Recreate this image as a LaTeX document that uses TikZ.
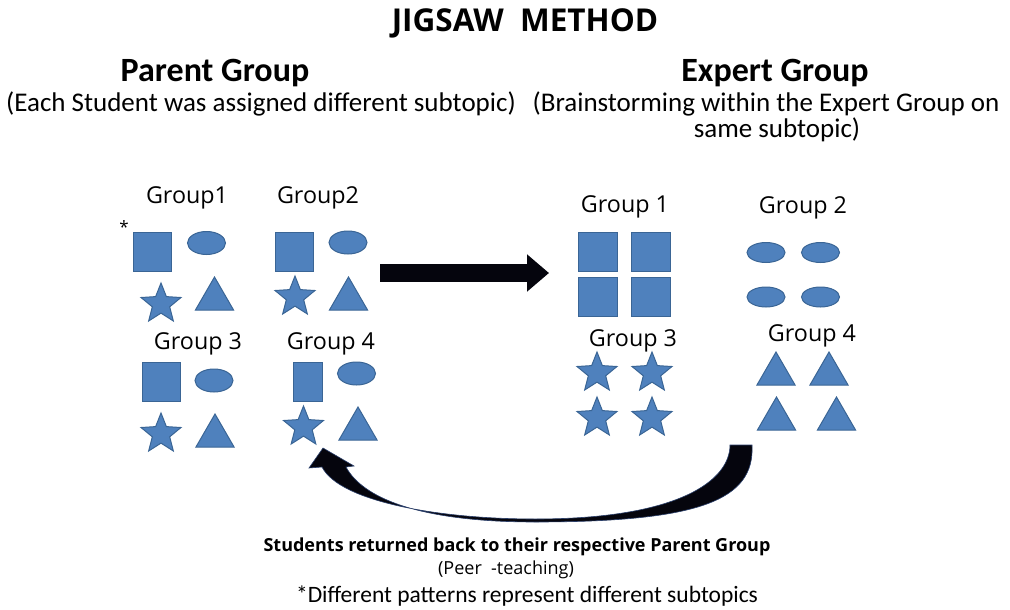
\documentclass[tikz,border=0pt]{standalone}
\usepackage{fontspec}
\setmainfont{Carlito}
\newfontfamily\osans{Open Sans}
\usetikzlibrary{shapes.geometric,arrows.meta}

\definecolor{shapeblue}{HTML}{4F81BD}
\definecolor{shapeedge}{HTML}{3A6595}
\definecolor{arrowink}{HTML}{05050D}
\definecolor{arrowedge}{HTML}{2A3F6B}

\newcommand{\fsz}[1]{\fontsize{#1}{#1}\selectfont}

\tikzset{
  sq/.style={rectangle, fill=shapeblue, draw=shapeedge, line width=1pt,
             inner sep=0pt, minimum width=38pt, minimum height=39pt},
  ov/.style={ellipse, fill=shapeblue, draw=shapeedge, line width=1pt,
             inner sep=0pt, minimum width=38pt, minimum height=23pt},
  st/.style={star, star points=5, star point ratio=2.3, fill=shapeblue,
             draw=shapeedge, line width=1pt, inner sep=0pt, minimum size=42pt},
  tri/.style={regular polygon, regular polygon sides=3, fill=shapeblue,
             draw=shapeedge, line width=1pt, inner sep=0pt, minimum size=44pt},
  grouplabel/.style={font=\osans\fsz{23.3}, inner sep=0pt},
  heading/.style={font=\bfseries\fsz{34}, inner sep=0pt},
  subhead/.style={font=\fsz{27}, inner sep=0pt},
}

\begin{document}
\begin{tikzpicture}[x=1pt,y=-1pt]
\useasboundingbox (0,0) rectangle (1010,610);

% headings
\node[font=\osans\bfseries\fsz{31.5}, inner sep=0pt] (title) at (525,23) {JIGSAW\ \ METHOD};
\node[heading] (parent) at (215,73) {Parent Group};
\node[subhead] (parentsub) at (261,104) {(Each Student was assigned different subtopic)};
\node[heading] (expert) at (775,73) {Expert Group};
\node[subhead] (expertsub) at (766,104) {(Brainstorming within the Expert Group on};
\node[subhead] (expertsub2) at (777,130) {same subtopic)};

% parent groups
\node[grouplabel] (pg1) at (187,198) {Group1};
\node[font=\osans\fsz{17}, inner sep=0pt] (mark) at (124,227) {*};
\node[sq] (pg1a) at (152,251.5) {};
\node[ov] (pg1b) at (206.5,243) {};
\node[st] (pg1c) at (161,304) {};
\node[tri] (pg1d) at (214.5,299) {};

\node[grouplabel] (pg2) at (318,198) {Group2};
\node[sq] (pg2a) at (294.5,251.5) {};
\node[ov] (pg2b) at (348,242.5) {};
\node[st] (pg2c) at (295,297) {};
\node[tri] (pg2d) at (348.5,299) {};

\node[grouplabel] (pg3) at (198,344) {Group 3};
\node[sq] (pg3a) at (161,382) {};
\node[ov] (pg3b) at (214,380.5) {};
\node[st] (pg3c) at (161,434) {};
\node[tri] (pg3d) at (215,436) {};

\node[grouplabel] (pg4) at (331,344) {Group 4};
\node[sq, minimum width=29pt] (pg4a) at (307.5,382) {};
\node[ov] (pg4b) at (356.5,373.5) {};
\node[st] (pg4c) at (303.5,427) {};
\node[tri] (pg4d) at (358,429) {};

% expert groups
\node[grouplabel] (eg1) at (625,207) {Group 1};
\node[sq, minimum width=39pt] (eg1a) at (598,251.5) {};
\node[sq, minimum width=39pt] (eg1b) at (651,251.5) {};
\node[sq, minimum width=39pt] (eg1c) at (598,297) {};
\node[sq, minimum width=39pt] (eg1d) at (651,297) {};

\node[grouplabel] (eg2) at (803,208) {Group 2};
\node[ov, minimum height=20pt] (eg2a) at (766,252.5) {};
\node[ov, minimum height=20pt] (eg2b) at (820.5,252.5) {};
\node[ov, minimum height=20pt] (eg2c) at (766,297) {};
\node[ov, minimum height=20pt] (eg2d) at (820.5,297) {};

\node[grouplabel] (eg3) at (633,341) {Group 3};
\node[st] (eg3a) at (597,373) {};
\node[st] (eg3b) at (652,373) {};
\node[st] (eg3c) at (597,418) {};
\node[st] (eg3d) at (652,418) {};

\node[grouplabel] (eg4) at (812,336) {Group 4};
\node[tri] (eg4a) at (776,374) {};
\node[tri] (eg4b) at (829,374) {};
\node[tri] (eg4c) at (776.5,419) {};
\node[tri] (eg4d) at (836.5,419) {};

% parent -> expert arrow
\coordinate (goStart) at (380,273);
\coordinate (goEnd) at (549,273);
\draw[arrowink, line width=18pt,
      -{Triangle[length=22pt,width=36pt]}] (goStart) -- (goEnd);

% curved return arrow (tapering band with head)
\coordinate (backStart) at (741,445);
\coordinate (backTip) at (323,448);
\filldraw[fill=arrowink, draw=arrowedge, line width=0.6pt]
  (752,445) .. controls (755,500) and (700,522) .. (535,522)
  .. controls (430,522) and (365,502) .. (346,467)
  -- (354,466) -- (backTip) -- (309,468) -- (322,467)
  .. controls (340,502) and (440,519) .. (535,519)
  .. controls (680,519) and (730,480) .. (730,445) -- cycle;

% footer texts
\node[font=\osans\bfseries\fsz{18}, inner sep=0pt] (back) at (517,547) {Students returned back to their respective Parent Group};
\node[font=\osans\fsz{18}, inner sep=0pt] (peer) at (506,570) {(Peer \ -teaching)};
\node[font=\fsz{23.5}, inner sep=0pt] (note) at (527,596) {*Different patterns represent different subtopics};
\end{tikzpicture}
\end{document}
